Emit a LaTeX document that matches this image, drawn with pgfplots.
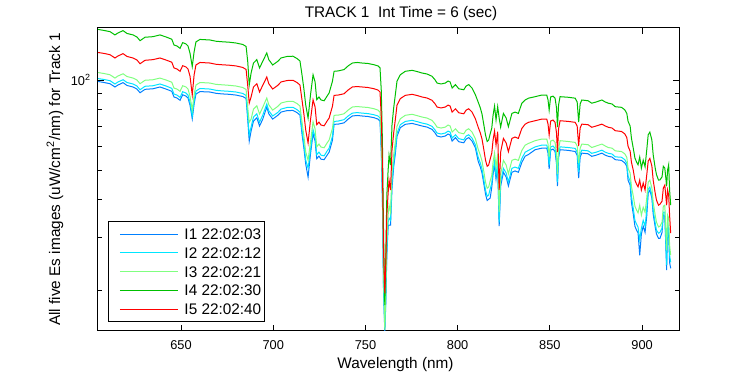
\documentclass[border=0pt]{standalone}
\usepackage{fontspec}
\setmainfont{Liberation Sans}
\usepackage{pgfplots}
\usepackage{pgfplotstable}
\pgfplotsset{compat=1.18}
\definecolor{cI1}{RGB}{0,128,255}
\definecolor{cI2}{RGB}{0,230,255}
\definecolor{cI3}{RGB}{128,255,128}
\definecolor{cI4}{RGB}{0,192,0}
\definecolor{cI5}{RGB}{255,0,0}
\pgfplotstableread{
lam i1 i2 i3 i4 i5
605.0 98.9 101.1 105.9 147.4 123.5
608.3 98.1 100.4 105.1 146.2 122.6
611.5 97.2 99.5 104.1 144.9 121.4
614.2 94.8 97.0 101.5 141.3 118.4
615.8 96.2 98.5 103.1 143.4 120.2
618.6 98.0 100.2 104.9 146.0 122.4
620.7 95.9 98.1 102.7 142.9 119.8
624.0 94.8 97.0 101.5 141.3 118.4
626.1 93.3 95.5 100.0 139.1 116.6
627.8 90.7 92.8 97.2 135.2 113.3
630.5 93.1 95.3 99.8 138.8 116.3
634.8 93.5 95.7 100.2 139.4 116.9
638.6 94.8 97.0 101.5 141.3 118.4
642.3 93.1 95.3 99.8 138.8 116.3
645.0 91.7 93.8 98.3 136.7 114.6
646.2 87.8 89.8 94.0 130.8 109.7
647.8 87.1 89.1 93.3 129.8 108.8
649.5 85.6 87.5 91.7 127.5 106.9
650.9 89.3 91.4 95.7 133.2 111.6
652.7 88.4 90.5 94.8 131.8 110.5
653.8 87.1 89.1 93.3 129.8 108.8
654.9 82.4 84.3 88.2 122.7 102.9
656.1 74.3 76.0 79.6 110.8 89.1
657.1 83.2 85.1 89.1 124.0 103.9
658.1 89.8 91.9 96.2 133.9 112.2
660.3 91.5 93.7 98.1 136.5 114.4
665.7 91.2 93.3 97.7 135.9 113.9
669.0 90.3 92.4 96.7 134.6 112.8
672.2 89.9 92.0 96.4 134.1 112.4
676.2 89.6 91.7 96.0 133.6 112.0
679.8 89.1 91.2 95.5 132.8 111.4
683.5 88.1 90.2 94.4 131.3 110.1
685.3 86.8 88.8 93.0 129.3 108.4
686.2 73.6 75.9 80.7 114.8 95.5
687.0 62.6 65.6 72.4 96.2 83.8
688.0 67.6 69.7 74.1 105.5 87.8
689.3 73.0 75.3 80.0 113.9 94.8
691.1 74.9 77.2 82.1 116.9 97.2
692.6 70.3 72.4 77.0 109.7 91.2
694.3 74.0 76.3 81.1 115.4 96.0
696.5 81.3 83.2 87.1 123.0 102.3
697.6 77.2 79.0 82.7 116.9 97.2
699.7 74.1 75.9 79.4 112.2 93.3
702.5 76.3 78.0 81.7 115.4 96.0
704.2 78.2 80.0 83.8 118.4 98.5
707.5 79.1 81.0 84.8 119.8 99.6
710.7 79.2 81.1 84.9 120.0 99.8
712.9 77.9 79.7 83.5 117.9 98.1
714.5 76.4 78.2 81.9 115.7 96.2
715.6 66.2 68.3 72.6 104.1 85.9
716.7 58.9 60.7 64.6 92.6 76.4
717.6 52.6 54.2 57.7 82.7 68.3
718.9 47.5 50.9 54.1 74.7 61.7
720.2 56.7 58.4 62.1 89.1 73.6
721.6 66.2 68.3 72.6 104.1 85.9
722.7 62.6 64.6 68.7 98.5 81.3
723.6 54.7 56.4 59.9 86.0 71.0
724.8 55.8 57.5 61.2 87.8 72.4
725.9 54.5 56.2 59.8 85.8 70.8
727.6 54.3 55.9 59.5 85.3 70.4
729.2 56.2 58.0 61.7 88.4 73.0
730.3 57.5 59.3 63.1 90.5 74.7
732.1 63.0 64.9 69.0 99.0 81.7
733.0 71.2 72.8 76.3 106.9 88.9
735.2 71.3 73.0 76.4 107.2 89.1
738.4 72.0 73.8 77.2 108.3 90.0
740.6 74.1 75.9 79.4 111.4 92.6
742.9 75.9 77.6 81.3 113.9 94.8
745.5 76.2 77.9 81.6 114.4 95.1
748.2 75.9 77.6 81.3 113.9 94.8
751.4 75.6 77.3 81.0 113.5 94.4
754.7 74.9 76.6 80.2 112.4 93.5
756.8 74.1 75.9 79.4 111.4 92.6
757.9 73.0 74.7 78.2 109.7 91.2
758.6 57.5 59.3 63.1 91.9 75.3
759.2 39.8 41.4 44.7 62.6 52.1
759.8 20.0 20.7 23.3 31.6 27.1
760.5 14.4 14.9 14.7 17.8 19.5
761.0 17.8 18.5 20.0 25.1 24.2
761.6 26.1 27.1 29.3 41.4 35.5
762.3 32.6 33.6 35.5 50.1 42.0
762.8 32.9 34.7 38.3 56.2 46.4
763.6 32.9 34.1 36.3 52.1 43.0
764.4 43.7 45.7 49.4 70.8 58.4
765.3 51.3 52.9 56.2 80.7 66.6
766.2 56.8 58.6 62.3 89.3 73.8
767.1 64.9 66.4 70.1 99.0 82.4
768.9 69.4 71.0 74.3 104.1 86.7
771.6 71.2 72.8 76.3 106.9 88.9
775.3 71.7 73.4 76.9 107.7 89.6
778.0 71.0 72.7 76.1 106.7 88.8
780.7 70.3 71.9 75.3 105.5 87.8
783.4 69.7 71.3 74.7 104.7 87.1
786.1 68.5 70.1 73.4 102.9 85.6
787.8 66.6 68.1 71.3 100.0 83.2
788.8 65.1 66.6 69.7 97.7 81.3
791.0 64.6 66.1 69.2 97.0 80.7
793.3 65.1 66.6 69.7 97.7 81.3
794.8 66.1 67.6 70.8 99.2 82.5
795.9 65.6 67.1 70.3 98.5 81.9
797.0 62.6 64.1 67.1 94.0 78.2
798.8 64.3 65.7 68.8 96.5 80.2
800.6 62.3 63.8 66.8 93.5 77.8
803.3 61.8 63.2 66.2 92.8 77.2
804.6 63.6 65.1 68.1 95.5 79.4
806.0 64.3 65.7 68.8 96.5 80.2
807.8 62.6 64.1 67.1 94.0 78.2
809.6 59.5 60.9 63.8 89.3 74.3
811.1 53.7 55.4 58.9 84.5 69.7
812.3 51.3 52.9 56.2 80.7 66.6
813.2 49.0 50.5 53.7 77.0 63.6
814.2 45.1 46.5 49.5 70.9 58.6
815.1 41.7 43.0 45.7 65.6 54.1
816.0 39.7 41.0 43.6 62.4 51.6
816.8 40.1 41.4 44.0 63.1 52.1
817.6 40.4 43.3 46.1 66.1 54.5
818.5 44.0 45.4 48.2 69.2 57.1
819.2 48.6 50.1 53.3 76.4 63.1
820.0 52.1 53.7 57.1 81.9 67.6
820.8 46.8 48.2 51.3 73.6 60.7
821.7 51.8 53.4 56.8 81.5 67.3
822.5 32.6 33.6 36.3 74.7 43.0
823.3 44.3 45.7 48.6 69.7 57.5
824.8 49.3 50.8 54.0 77.4 63.9
826.3 47.5 49.0 52.1 74.7 61.7
827.5 44.4 45.8 48.7 69.9 57.7
829.4 49.3 50.8 54.0 77.4 63.9
831.1 49.8 51.3 54.5 78.2 64.6
832.9 49.3 50.8 54.0 77.4 63.9
834.8 53.2 54.8 58.3 83.7 69.0
836.6 55.8 57.5 60.7 85.8 71.3
838.4 56.5 58.3 61.5 87.0 72.3
842.0 58.6 59.9 62.8 88.0 73.2
845.6 59.3 60.7 63.6 89.1 74.1
848.3 59.3 60.7 63.6 89.1 74.1
849.0 57.1 58.4 61.2 85.8 71.3
849.6 50.5 52.1 55.4 79.4 65.6
850.4 58.4 59.8 62.6 87.8 73.0
851.7 58.9 60.3 63.1 88.4 73.6
852.8 57.8 59.2 62.0 87.0 72.3
853.6 52.5 54.1 57.1 80.7 66.6
854.1 44.3 45.7 48.6 69.7 57.5
854.7 55.0 56.2 58.9 82.5 68.7
855.5 58.6 59.9 62.8 88.0 73.2
860.0 58.3 59.6 62.4 87.6 72.8
863.7 57.8 59.2 62.0 87.0 72.3
864.8 56.2 57.5 60.3 84.5 70.3
865.6 47.1 49.4 52.9 72.4 60.3
866.4 55.4 56.7 59.3 83.2 69.2
867.3 57.1 58.4 61.2 85.8 71.3
870.7 56.8 58.1 60.9 85.3 71.0
872.7 55.7 57.0 59.6 83.7 69.6
875.1 56.2 57.5 60.3 84.5 70.3
878.2 57.1 58.4 61.2 85.8 71.3
880.0 56.2 57.5 60.3 84.5 70.3
881.7 55.7 57.0 59.6 83.7 69.6
883.7 55.4 56.7 59.3 83.2 69.2
885.4 54.3 55.5 58.1 81.5 67.8
888.8 54.0 55.3 57.8 81.1 67.4
890.6 53.0 54.3 56.8 79.6 66.2
891.7 51.6 52.8 55.3 77.4 64.3
892.4 46.3 47.8 50.8 72.8 60.1
893.5 44.7 46.1 49.0 70.3 58.0
894.2 39.2 41.1 44.3 64.1 53.3
895.2 35.8 37.4 41.1 59.3 50.1
896.1 32.6 34.1 38.0 55.0 46.4
897.0 31.6 33.1 36.9 53.3 45.0
897.8 31.0 32.4 36.1 52.2 44.1
898.7 26.1 29.3 38.3 55.4 46.4
899.6 30.7 32.1 35.5 50.9 43.0
900.6 32.6 34.1 37.7 54.1 45.4
901.6 31.1 32.6 36.3 51.4 43.0
902.5 35.2 36.9 40.4 58.4 48.2
903.3 42.0 43.3 45.7 65.7 53.7
904.2 43.0 44.0 46.4 67.1 54.8
905.3 40.4 41.4 43.7 63.1 51.7
906.0 35.8 36.9 39.2 56.4 46.4
907.1 32.4 33.4 35.5 50.9 42.0
907.8 30.7 31.6 33.6 48.4 39.8
908.9 29.7 30.9 32.4 46.4 38.3
909.7 29.7 31.1 32.6 46.5 38.6
910.8 31.1 32.1 33.6 47.6 39.5
911.5 35.5 36.3 38.0 51.6 43.7
912.3 35.2 36.3 38.3 50.9 44.7
913.3 23.3 24.2 27.1 44.3 38.3
913.8 32.9 33.6 35.5 50.1 43.0
914.4 30.4 31.6 34.7 52.2 41.4
914.9 24.7 26.1 28.2 43.0 35.5
915.5 23.6 24.7 26.1 38.3 30.9
}\spec
\begin{document}
\begin{tikzpicture}
\path[use as bounding box] (0,0) rectangle (562.5pt,281.25pt);
\begin{axis}[
  at={(73.5pt,33pt)}, anchor=south west,
  scale only axis, width=435.75pt, height=227.25pt,
  xmin=605, xmax=920, ymin=14.6, ymax=149, ymode=log,
  xtick={650,700,750,800,850,900},
  ytick={100}, yticklabels={10\textsuperscript{2}},
  minor ytick={20,30,40,50,60,70,80,90},
  tick align=inside,
  major tick length=4.5pt, minor tick length=3pt,
  every tick/.style={black, line width=0.6pt},
  axis line style={line width=0.75pt},
  /pgf/number format/assume math mode=true,
  /pgf/number format/1000 sep={},
  xticklabel style={font=\fontsize{9.6}{11}\selectfont, anchor=north, inner sep=0pt, yshift=-6.75pt},
  yticklabel style={font=\fontsize{9.6}{11}\selectfont, anchor=base east, inner sep=0pt, xshift=-5.25pt, yshift=-3.75pt},
  every axis title shift=0pt,
  title={TRACK 1\ \ Int Time = 6 (sec)},
  title style={font=\fontsize{11.5}{13}\selectfont, at={(axis description cs:0.5215,1)}, anchor=base, inner sep=0pt, yshift=8pt},
  xlabel={Wavelength (nm)},
  xlabel style={font=\fontsize{11.5}{13}\selectfont, at={(axis description cs:0.512,0)}, anchor=base, inner sep=0pt, yshift=-28.5pt},
  ylabel={All five Es images (uW/cm\textsuperscript{2}/nm) for Track 1},
  ylabel style={font=\fontsize{11.5}{13}\selectfont, at={(axis description cs:-0.0654,0.5)}, anchor=base, inner sep=0pt},
  legend style={at={(axis description cs:0.0172,0.0287)}, anchor=south west, draw=black, line width=0.75pt, fill=white,
    font=\fontsize{11.5}{13}\selectfont, inner xsep=2.25pt, inner ysep=3.8pt, row sep=3.1pt, /tikz/column sep=4.5pt,
    nodes={inner sep=0pt, text height=9.5pt, text depth=1.5pt}},
  legend cell align=left,
  legend image code/.code={\path (0pt,0pt); \draw[#1] (6pt,0pt) -- (49.5pt,0pt);},
]
\addplot[cI1, line width=0.75pt] table[x=lam, y=i1] {\spec};
\addplot[cI2, line width=0.75pt] table[x=lam, y=i2] {\spec};
\addplot[cI3, line width=0.75pt] table[x=lam, y=i3] {\spec};
\addplot[cI4, line width=0.75pt] table[x=lam, y=i4] {\spec};
\addplot[cI5, line width=0.75pt] table[x=lam, y=i5] {\spec};
\legend{I1 22:02:03, I2 22:02:12, I3 22:02:21, I4 22:02:30, I5 22:02:40}
\end{axis}
\end{tikzpicture}
\end{document}
